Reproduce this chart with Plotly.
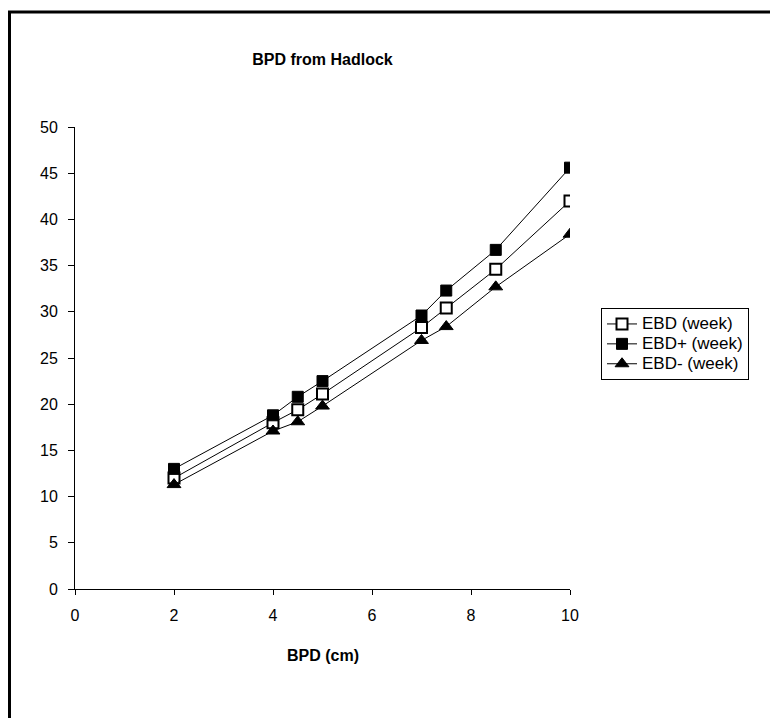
import plotly.graph_objects as go

bpd_cm = [2, 4, 4.5, 5, 7, 7.5, 8.5, 10]
ebd_week = [12.0, 18.0, 19.4, 21.1, 28.3, 30.4, 34.6, 42.0]
ebd_plus_week = [13.0, 18.8, 20.8, 22.5, 29.6, 32.3, 36.7, 45.6]
ebd_minus_week = [11.3, 17.1, 18.1, 19.8, 26.9, 28.4, 32.7, 38.4]

series_names = ["EBD (week)", "EBD+ (week)", "EBD- (week)"]
x_ticks = [0, 2, 4, 6, 8, 10]
y_ticks = [0, 5, 10, 15, 20, 25, 30, 35, 40, 45, 50]

FONT = "Liberation Sans, Arial, sans-serif"
LEGEND_TEXT_PX = 17

def legend_label(s):
    return f'<span style="font-size:{LEGEND_TEXT_PX}px">{s}</span>'

fig = go.Figure()
fig.add_trace(go.Scatter(
    x=bpd_cm, y=ebd_week, name=legend_label(series_names[0]), mode="lines+markers",
    line=dict(color="black", width=1),
    marker=dict(symbol="square", size=11, color="white", line=dict(color="black", width=2)),
))
fig.add_trace(go.Scatter(
    x=bpd_cm, y=ebd_plus_week, name=legend_label(series_names[1]), mode="lines+markers",
    line=dict(color="black", width=1),
    marker=dict(symbol="square", size=11, color="black", line=dict(color="black", width=1)),
))
fig.add_trace(go.Scatter(
    x=bpd_cm, y=ebd_minus_week, name=legend_label(series_names[2]), mode="lines+markers",
    line=dict(color="black", width=1),
    marker=dict(symbol="triangle-up", size=12, color="black", line=dict(color="black", width=1)),
))

# page body adds an 8px offset; figure coordinates = reference pixels - 8
W, H = 770, 710
L, R, T, B = 67, 562, 119, 581

def px_to_paper_x(px):
    return (px - L) / (R - L)

def px_to_paper_y(py):
    return (B - py) / (B - T)

fig.update_layout(
    width=W, height=H,
    margin=dict(l=L, r=W - R, t=T, b=H - B),
    paper_bgcolor="white", plot_bgcolor="white",
    font=dict(family=FONT, size=16, color="black"),
    title=dict(text="<b>BPD from Hadlock</b>", x=0.5 * (L + R) / W, xanchor="center",
               y=1 - 51 / H, yanchor="middle", yref="container",
               font=dict(family=FONT, size=16, color="black")),
    xaxis=dict(range=[0, 10], tickvals=x_ticks, showgrid=False, zeroline=False,
               showline=True, linecolor="black", linewidth=1,
               ticks="outside", ticklen=5, tickcolor="black", tickwidth=1,
               ticklabelstandoff=7, tickfont=dict(size=16)),
    yaxis=dict(range=[0, 50], tickvals=y_ticks, showgrid=False, zeroline=False,
               showline=True, linecolor="black", linewidth=1,
               ticks="outside", ticklen=6, tickcolor="black", tickwidth=1,
               ticklabelstandoff=7, tickfont=dict(size=16)),
    legend=dict(x=px_to_paper_x(593), y=px_to_paper_y(300), xanchor="left", yanchor="top",
                bordercolor="black", borderwidth=1, bgcolor="white",
                font=dict(family=FONT, size=13), itemwidth=30,
                tracegroupgap=0),
    showlegend=True,
)

fig.add_annotation(text="<b>BPD (cm)</b>", xref="paper", yref="paper",
                   x=0.5, y=px_to_paper_y(647), xanchor="center", yanchor="middle",
                   showarrow=False, font=dict(family=FONT, size=16, color="black"))

# outer chart frame (left and top edges visible)
fig.add_shape(type="rect", xref="paper", yref="paper",
              x0=px_to_paper_x(1.5), x1=px_to_paper_x(820),
              y0=px_to_paper_y(760), y1=px_to_paper_y(4),
              line=dict(color="black", width=3), layer="below")

fig.write_html("out.html")
